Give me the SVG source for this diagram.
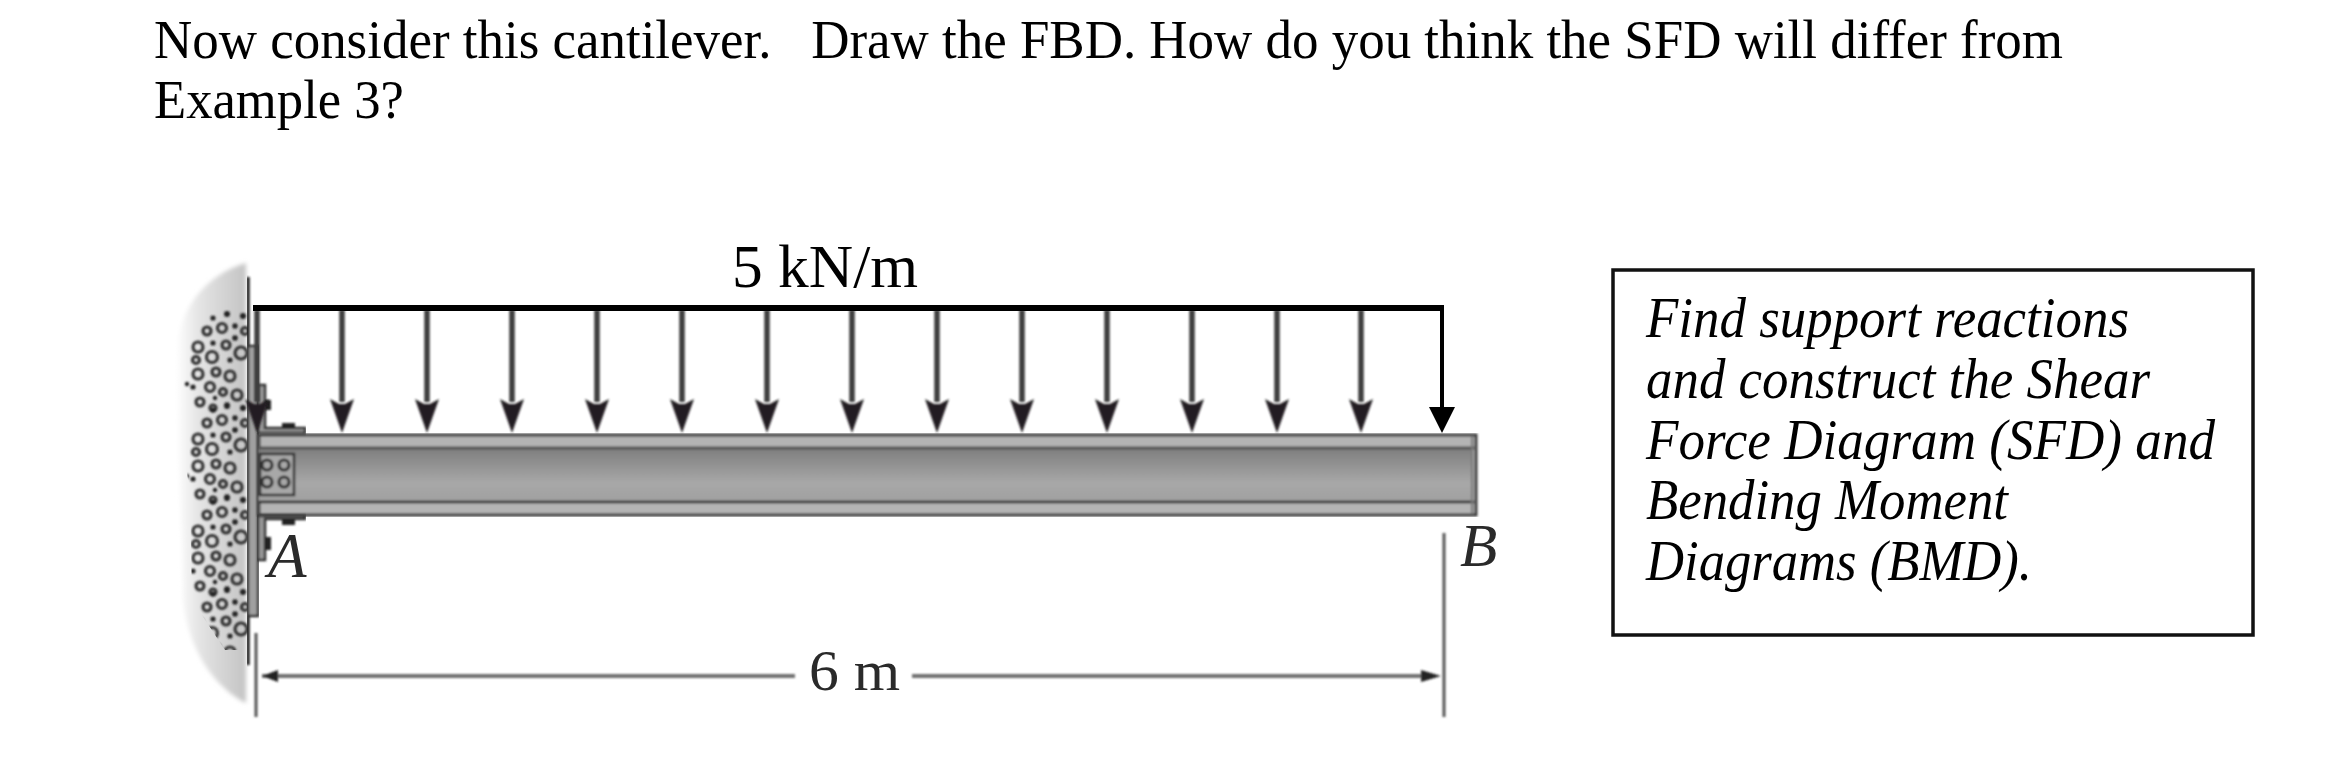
<svg xmlns="http://www.w3.org/2000/svg" width="2334" height="764" viewBox="0 0 2334 764">
<style>
text{font-family:"Liberation Serif","Times New Roman",serif;fill:#000}
.head{font-size:55px;white-space:pre}
.note{font-size:56px;font-style:italic}
.fig{fill:#2a2a2a}
.ring{fill:none;stroke:#333;stroke-width:3.2}
.dot{fill:#222}
.steel{stroke:#2e2e2e;stroke-width:2.5}
.dim{stroke:#707070;stroke-width:4;fill:none}
.ext{stroke:#555;stroke-width:3;fill:none}
.bolt{fill:#222}
</style>
<defs>
<filter id="soft" x="-2%" y="-2%" width="104%" height="104%"><feGaussianBlur stdDeviation="0.8"/></filter>
<filter id="softer" x="-5%" y="-5%" width="110%" height="110%"><feGaussianBlur stdDeviation="2"/></filter>
<linearGradient id="wallFill" x1="0" y1="0" x2="1" y2="0"><stop offset="0" stop-color="#ffffff"/><stop offset="0.3" stop-color="#e6e6e6"/><stop offset="1" stop-color="#c4c4c4"/></linearGradient>
<linearGradient id="webFill" x1="0" y1="0" x2="0" y2="1"><stop offset="0" stop-color="#7e7e7e"/><stop offset="0.65" stop-color="#a8a8a8"/><stop offset="1" stop-color="#a0a0a0"/></linearGradient>
<clipPath id="rockClip"><path d="M248 300H205L190 330L180 400L190 500L192 600L225 650H248Z"/></clipPath>
<g id="rockTile">
<circle class="ring" cx="207" cy="331" r="4"/><circle class="ring" cx="222" cy="328" r="4.5"/><circle class="ring" cx="198" cy="347" r="5"/><circle class="ring" cx="226" cy="345" r="4"/><circle class="ring" cx="241" cy="353" r="6"/><circle class="ring" cx="212" cy="357" r="5.5"/><circle class="ring" cx="196" cy="360" r="3.5"/><circle class="ring" cx="198" cy="374" r="5"/><circle class="ring" cx="216" cy="372" r="4"/><circle class="ring" cx="230" cy="376" r="5"/><circle class="ring" cx="210" cy="387" r="4.5"/><circle class="ring" cx="237" cy="395" r="5"/><circle class="ring" cx="245" cy="331" r="3.5"/><circle class="ring" cx="200" cy="402" r="4"/><circle class="ring" cx="223" cy="392" r="3.5"/><circle class="ring" cx="213" cy="408" r="3"/>
<circle class="dot" cx="227" cy="314" r="3"/><circle class="dot" cx="213" cy="318" r="2.6"/><circle class="dot" cx="243" cy="316" r="3"/><circle class="dot" cx="235" cy="326" r="2.7"/><circle class="dot" cx="235" cy="338" r="2.8"/><circle class="dot" cx="213" cy="343" r="2.6"/><circle class="dot" cx="230" cy="360" r="2.6"/><circle class="dot" cx="193" cy="387" r="2.6"/><circle class="dot" cx="187" cy="384" r="2.2"/><circle class="dot" cx="227" cy="405" r="2.8"/><circle class="dot" cx="215" cy="398" r="2.2"/>
</g>
<g id="loadArrow"><line x1="0" y1="310" x2="0" y2="402" stroke="#3c3c3c" stroke-width="5.5"/><polygon points="-12,399 -3,404 3,404 12,399 0,433" fill="#231f20"/></g>
</defs>
<rect width="2334" height="764" fill="#fff"/>

<g id="heading">
<text class="head" xml:space="preserve" x="154" y="58" textLength="1909" lengthAdjust="spacingAndGlyphs">Now consider this cantilever.   Draw the FBD. How do you think the SFD will differ from</text>
<text class="head" x="154" y="118" textLength="250" lengthAdjust="spacingAndGlyphs">Example 3?</text>
</g>

<g id="wall">
<path d="M246 263C205 275 176 310 176 360C176 450 183 530 183 600C188 650 215 688 246 703Z" fill="url(#wallFill)" filter="url(#softer)"/>
<g clip-path="url(#rockClip)" filter="url(#soft)">
<use href="#rockTile"/><use href="#rockTile" y="92"/><use href="#rockTile" y="184"/><use href="#rockTile" y="276"/>
</g>
<g filter="url(#soft)">
<line x1="248" y1="277" x2="248" y2="665" stroke="#222" stroke-width="3.5"/>
<rect x="248" y="346" width="10" height="270" fill="#a0a0a0" stroke="#2e2e2e" stroke-width="2.5"/>
</g>
</g>

<g id="beam" filter="url(#soft)">
<rect x="259" y="435" width="1217" height="80" fill="#b4b4b4" stroke="#3c3c3c" stroke-width="3"/>
<rect x="259" y="448" width="1213" height="54" fill="url(#webFill)"/>
<line x1="259" y1="448" x2="1474" y2="448" stroke="#555" stroke-width="3"/>
<line x1="259" y1="502" x2="1474" y2="502" stroke="#222" stroke-width="2.5"/>
<line x1="1472" y1="436" x2="1472" y2="514" stroke="#777" stroke-width="2"/>
<rect x="260" y="454" width="34" height="41" fill="#a8a8a8" class="steel"/>
<circle class="ring" cx="267" cy="465" r="5"/><circle class="ring" cx="284" cy="465" r="5"/><circle class="ring" cx="267" cy="482" r="5"/><circle class="ring" cx="284" cy="482" r="5"/>
</g>

<g id="angles" filter="url(#soft)">
<path d="M258 385H265V428H305V433H258Z" fill="#999" class="steel"/>
<rect class="bolt" x="282" y="423" width="13" height="5"/><rect class="bolt" x="265" y="400" width="6" height="10"/>
<path d="M258 516H305V519H265V560H258Z" fill="#999" class="steel"/>
<rect class="bolt" x="282" y="519" width="13" height="6"/><rect class="bolt" x="265" y="537" width="6" height="13"/>
</g>

<g id="connectors">
<g id="load-arrows" filter="url(#soft)">
<use href="#loadArrow" x="257"/><use href="#loadArrow" x="342"/><use href="#loadArrow" x="427"/><use href="#loadArrow" x="512"/><use href="#loadArrow" x="597"/><use href="#loadArrow" x="682"/><use href="#loadArrow" x="767"/><use href="#loadArrow" x="852"/><use href="#loadArrow" x="937"/><use href="#loadArrow" x="1022"/><use href="#loadArrow" x="1107"/><use href="#loadArrow" x="1192"/><use href="#loadArrow" x="1277"/><use href="#loadArrow" x="1361"/>
</g>
<line x1="253" y1="308" x2="1444" y2="308" stroke="#000" stroke-width="6"/>
<line x1="1442" y1="308" x2="1442" y2="408" stroke="#000" stroke-width="4"/>
<polygon points="1429,407 1455,407 1442,433" fill="#000"/>
<g id="dimension" filter="url(#soft)">
<line class="ext" x1="256" y1="633" x2="256" y2="717"/>
<line class="ext" x1="1444" y1="533" x2="1444" y2="717"/>
<line class="dim" x1="262" y1="676" x2="795" y2="676"/>
<line class="dim" x1="912" y1="676" x2="1430" y2="676"/>
<polygon points="262,676 278,670 278,682" fill="#222"/>
<polygon points="1441,676 1421,670 1421,682" fill="#222"/>
</g>
</g>

<g id="labels">
<text id="load-label" x="732" y="287" font-size="62" textLength="186" lengthAdjust="spacingAndGlyphs">5 kN/m</text>
<text id="span-label" x="809" y="690" font-size="57" class="fig" textLength="91" lengthAdjust="spacingAndGlyphs">6 m</text>
<text id="point-a" x="268" y="577" font-size="63" font-style="italic" class="fig">A</text>
<text id="point-b" x="1460" y="566" font-size="61" font-style="italic" class="fig">B</text>
</g>

<g id="note">
<rect x="1613" y="270" width="640" height="365" fill="#fff" stroke="#111" stroke-width="3.5"/>
<text class="note" x="1646" y="337" textLength="483" lengthAdjust="spacingAndGlyphs">Find support reactions</text>
<text class="note" x="1646" y="398" textLength="504" lengthAdjust="spacingAndGlyphs">and construct the Shear</text>
<text class="note" x="1646" y="459" textLength="569" lengthAdjust="spacingAndGlyphs">Force Diagram (SFD) and</text>
<text class="note" x="1646" y="519" textLength="362" lengthAdjust="spacingAndGlyphs">Bending Moment</text>
<text class="note" x="1646" y="580" textLength="386" lengthAdjust="spacingAndGlyphs">Diagrams (BMD).</text>
</g>
</svg>
